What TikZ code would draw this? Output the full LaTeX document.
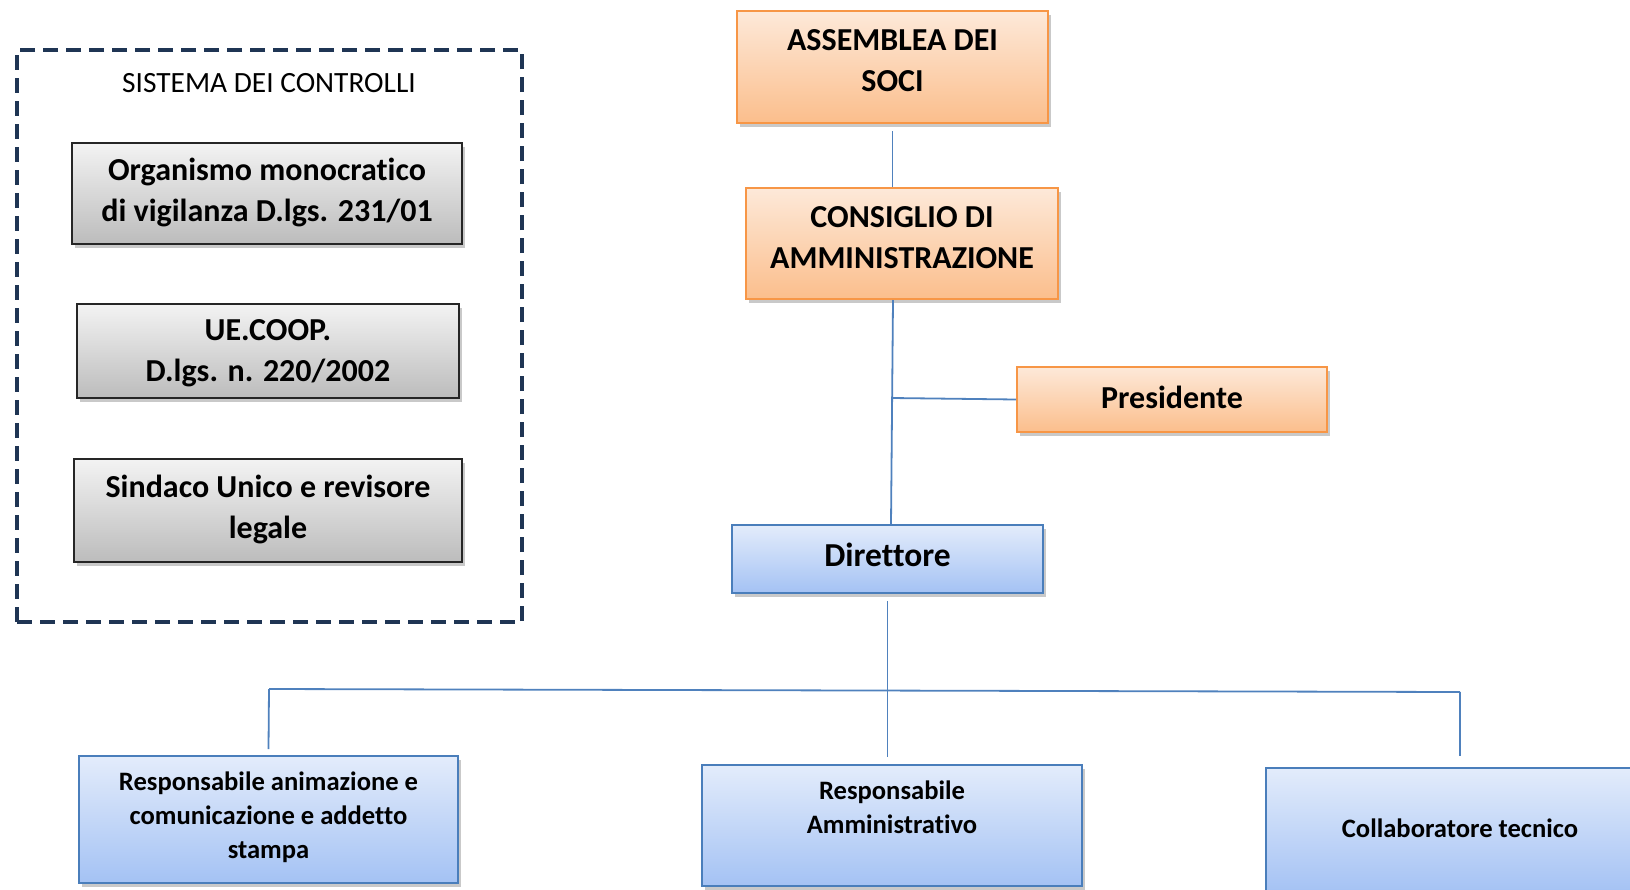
\documentclass[tikz,border=0pt]{standalone}
\usepackage{fontspec}
\setmainfont[Ligatures=NoCommon]{Carlito}
\usetikzlibrary{shadows}
\definecolor{orgline}{RGB}{247,150,70}
\definecolor{orgtop}{RGB}{253,233,217}
\definecolor{orgbot}{RGB}{251,190,140}
\definecolor{blueline}{RGB}{74,126,187}
\definecolor{bluetop}{RGB}{227,236,251}
\definecolor{bluebot}{RGB}{164,194,244}
\definecolor{graytop}{RGB}{243,243,243}
\definecolor{graybot}{RGB}{188,188,188}
\definecolor{navy}{RGB}{31,53,84}
\definecolor{conn}{RGB}{79,129,189}
% width, height, 2x upward text shift, text
\newcommand\bt[4]{\parbox[c][#2][c]{#1}{\centering #4\par\vspace*{#3}}}
\begin{document}
\begin{tikzpicture}[x=1pt,y=-1pt,
  base/.style={draw, line width=2pt, inner sep=0pt,
    drop shadow={shadow xshift=3pt, shadow yshift=-4pt, opacity=0.3, fill=black!70}},
  orangebox/.style={base, draw=orgline, top color=orgtop, bottom color=orgbot,
    font=\bfseries\fontsize{32}{41}\selectfont},
  graybox/.style={base, draw=black!85, top color=graytop, bottom color=graybot,
    font=\bfseries\fontsize{32}{41}\selectfont},
  bluebox/.style={base, draw=blueline, top color=bluetop, bottom color=bluebot,
    font=\bfseries\fontsize{26.6}{34}\selectfont},
  ctrlframe/.style={draw=navy, line width=4.5pt, dash pattern=on 15pt off 8pt, inner sep=0pt},
  conline/.style={draw=conn, line width=1.8pt}
]
\useasboundingbox (0,0) rectangle (1630,889);

% controls system
\node[ctrlframe, minimum width=505pt, minimum height=572pt] (ctrl) at (269.5,336) {};
\node[font=\fontsize{29.4}{34}\selectfont] (title) at (269,83) {SISTEMA DEI CONTROLLI};
\node[graybox] (g1) at (267,193.5) {\bt{390pt}{101pt}{2pt}{Organismo monocratico\\di vigilanza D.lgs. 231/01}};
\node[graybox] (g2) at (268,351) {\bt{382pt}{94pt}{-4pt}{UE.COOP.\\D.lgs. n. 220/2002}};
\node[graybox] (g3) at (268,510.5) {\bt{388pt}{103pt}{2pt}{Sindaco Unico e revisore\\legale}};

% governance
\node[orangebox] (as) at (892.5,67) {\bt{311pt}{112pt}{12pt}{ASSEMBLEA DEI\\SOCI}};
\node[orangebox] (cda) at (902,243.5) {\bt{312pt}{111pt}{12pt}{CONSIGLIO DI\\AMMINISTRAZIONE}};
\node[orangebox] (pres) at (1172,399.5) {\bt{310pt}{65pt}{4pt}{Presidente}};
\node[bluebox, font=\bfseries\fontsize{33.5}{40}\selectfont] (dir) at (887.5,559) {\bt{311pt}{68pt}{8pt}{Direttore}};

% staff
\node[bluebox] (r1) at (268.5,819.5) {\bt{379pt}{127pt}{4pt}{Responsabile animazione e\\comunicazione e addetto\\stampa}};
\node[bluebox] (r2) at (892,825.5) {\bt{380pt}{121pt}{36pt}{Responsabile\\Amministrativo}};
\node[bluebox] (r3) at (1460,830.5) {\bt{388pt}{125pt}{4pt}{Collaboratore tecnico}};

% connectors
\coordinate (trunk) at (892,398);
\coordinate (bl) at (269,689);
\coordinate (br) at (1460,692);
\draw[conline] ([yshift=-7pt]as.south) -- (as.south |- cda.north);
\draw[conline] ([xshift=-9pt]cda.south) -- ([xshift=3.5pt]dir.north);
\draw[conline] (pres.west) -- (trunk);
\draw[conline] ([yshift=-7pt]dir.south) -- ([yshift=7pt]dir.south |- r2.north);
\draw[conline] (bl) -- (br);
\draw[conline] (bl) -- ([yshift=6pt]r1.north);
\draw[conline] (br) -- ([yshift=11pt]r3.north);
\end{tikzpicture}
\end{document}
